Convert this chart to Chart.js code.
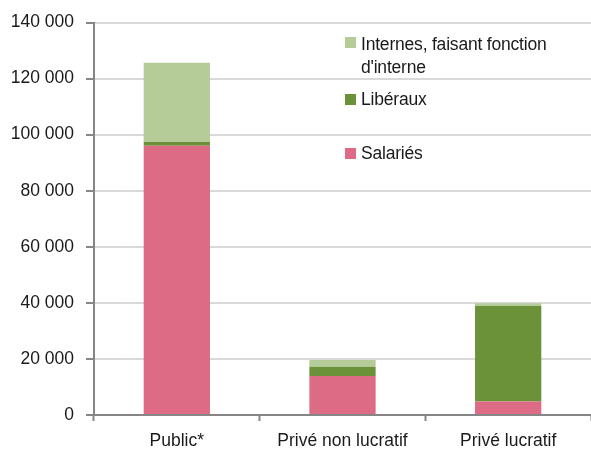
<!DOCTYPE html>
<html>
<head>
<meta charset="utf-8">
<script src="https://cdn.jsdelivr.net/npm/chart.js@4"></script>
<style>
    html, body { margin: 0; padding: 0; background: #fff; }
    #wrap { position: relative; width: 591px; height: 450px; }
    .leg { position: absolute; font-family: 'Liberation Sans', Arial, sans-serif; font-size: 17.5px; line-height: 23px; color: #1a1a1a; letter-spacing: -0.2px; }
    .sw { position: absolute; width: 11px; height: 11px; }
</style>
</head>
<body>
<div id="wrap">
    <canvas id="chart" width="591" height="450"></canvas>
    <div id="legend"></div>
</div>
<script>
// Données
const categories = ['Public*', 'Privé non lucratif', 'Privé lucratif'];
const salaries = [96000, 13900, 4800];
const liberaux = [1400, 3300, 34100];
const internes = [28200, 2400, 1000];
const yTicks = [0, 20000, 40000, 60000, 80000, 100000, 120000, 140000];

const colors = {
    internes: '#b5cb98',
    liberaux: '#6b9139',
    salaries: '#de6b85'
};

const fmt = v => v.toString().replace(/\B(?=(\d{3})+(?!\d))/g, ' ');
const font = { family: "'Liberation Sans', Arial, sans-serif", size: 17.5 };

// Légende (HTML, dans le cadre du graphique)
const legendItems = [
    { label: "Internes, faisant fonction<br>d'interne", color: colors.internes, top: 33, swTop: 37 },
    { label: 'Libéraux', color: colors.liberaux, top: 88, swTop: 94 },
    { label: 'Salariés', color: colors.salaries, top: 142, swTop: 148 }
];
document.getElementById('legend').innerHTML = legendItems.map(it => `
    <div class="sw" style="left:345px;top:${it.swTop}px;background:${it.color}"></div>
    <div class="leg" style="left:361px;top:${it.top}px">${it.label}</div>
`).join('');

const ctx = document.getElementById('chart').getContext('2d');
new Chart(ctx, {
    type: 'bar',
    data: {
        labels: categories,
        datasets: [
            { label: 'Salariés', data: salaries, backgroundColor: colors.salaries },
            { label: 'Libéraux', data: liberaux, backgroundColor: colors.liberaux },
            { label: "Internes, faisant fonction d'interne", data: internes, backgroundColor: colors.internes }
        ].map(d => Object.assign(d, {
            borderWidth: 0,
            barPercentage: 0.4,
            categoryPercentage: 1
        }))
    },
    options: {
        responsive: false,
        animation: false,
        layout: { padding: { top: 13, right: 0, left: 0, bottom: 0 } },
        plugins: { legend: { display: false }, tooltip: { enabled: false } },
        scales: {
            x: {
                stacked: true,
                afterFit: s => { s.height = 35; },
                grid: { display: true, drawOnChartArea: false, offset: true, tickLength: 6, tickColor: '#868686', tickWidth: 2 },
                border: { color: '#868686', width: 2 },
                ticks: { color: '#1a1a1a', font: font, padding: 10 }
            },
            y: {
                stacked: true,
                min: 0,
                max: 140000,
                afterFit: s => { s.width = 94; },
                afterBuildTicks: s => { s.ticks = yTicks.map(v => ({ value: v })); },
                grid: { color: '#d9d9d9', lineWidth: 2, tickLength: 8, tickColor: '#868686', tickWidth: 2 },
                border: { color: '#868686', width: 2 },
                ticks: { color: '#1a1a1a', font: font, padding: 12, callback: v => fmt(v) }
            }
        }
    }
});
</script>
</body>
</html>
